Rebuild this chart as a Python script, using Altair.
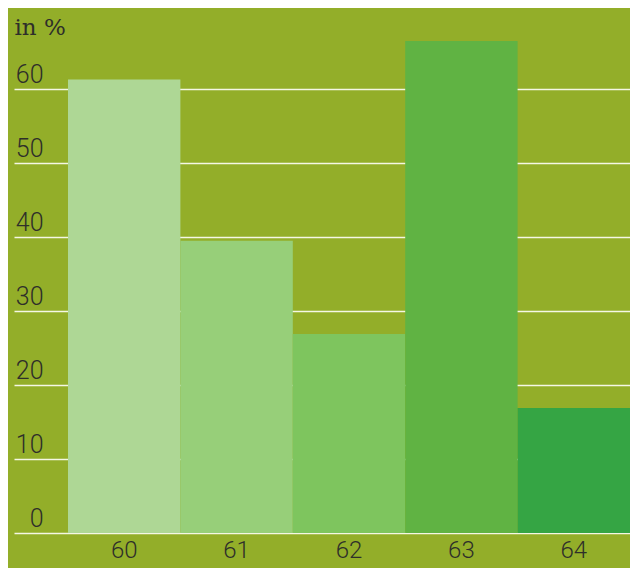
import altair as alt
import pandas as pd

ages = ["60", "61", "62", "63", "64"]
values = [61.3, 39.5, 26.9, 66.5, 16.9]
colors = ["#aed795", "#97cf79", "#7ec55e", "#60b343", "#35a544"]
y_ticks = [0, 10, 20, 30, 40, 50, 60]

df = pd.DataFrame({"age": ages, "value": values, "color": colors})

BG = "#93ae29"
TXT = "#2e2e2a"

chart = alt.Chart(df).mark_bar(strokeWidth=0).encode(
    x=alt.X("age:N", sort=ages,
            scale=alt.Scale(paddingInner=0, paddingOuter=0.2402, align=1),
            axis=alt.Axis(title=None, labelAngle=0, domain=False, ticks=False,
                          labelPadding=5, labelFont="Roboto", labelFontSize=24,
                          labelFontWeight=300, labelColor=TXT)),
    y=alt.Y("value:Q",
            scale=alt.Scale(domain=[0, 70.95], nice=False, zero=True),
            axis=alt.Axis(title="in %", values=y_ticks, domain=False, ticks=False, tickSize=0,
                          labelAlign="right", labelPadding=-29, labelBaseline="alphabetic",
                          labelOffset=-7, labelFont="Roboto", labelFontSize=25,
                          labelFontWeight=300, labelColor=TXT,
                          grid=True, gridColor="#f4f7e4", gridWidth=1.4,
                          titleAngle=0, titleAlign="left", titleBaseline="alphabetic",
                          titleX=0, titleY=26, titleFont="DejaVu Serif", titleFontSize=23,
                          titleFontWeight="normal", titleColor=TXT)),
    color=alt.Color("color:N", scale=None),
).properties(
    width=616, height=525,
    autosize=alt.AutoSizeParams(type="none"),
    padding={"left": 6, "top": 0, "right": 0, "bottom": 35},
).configure(background=BG).configure_view(stroke=None)

chart.save("out.html", embed_options={"renderer": "svg", "actions": False})
